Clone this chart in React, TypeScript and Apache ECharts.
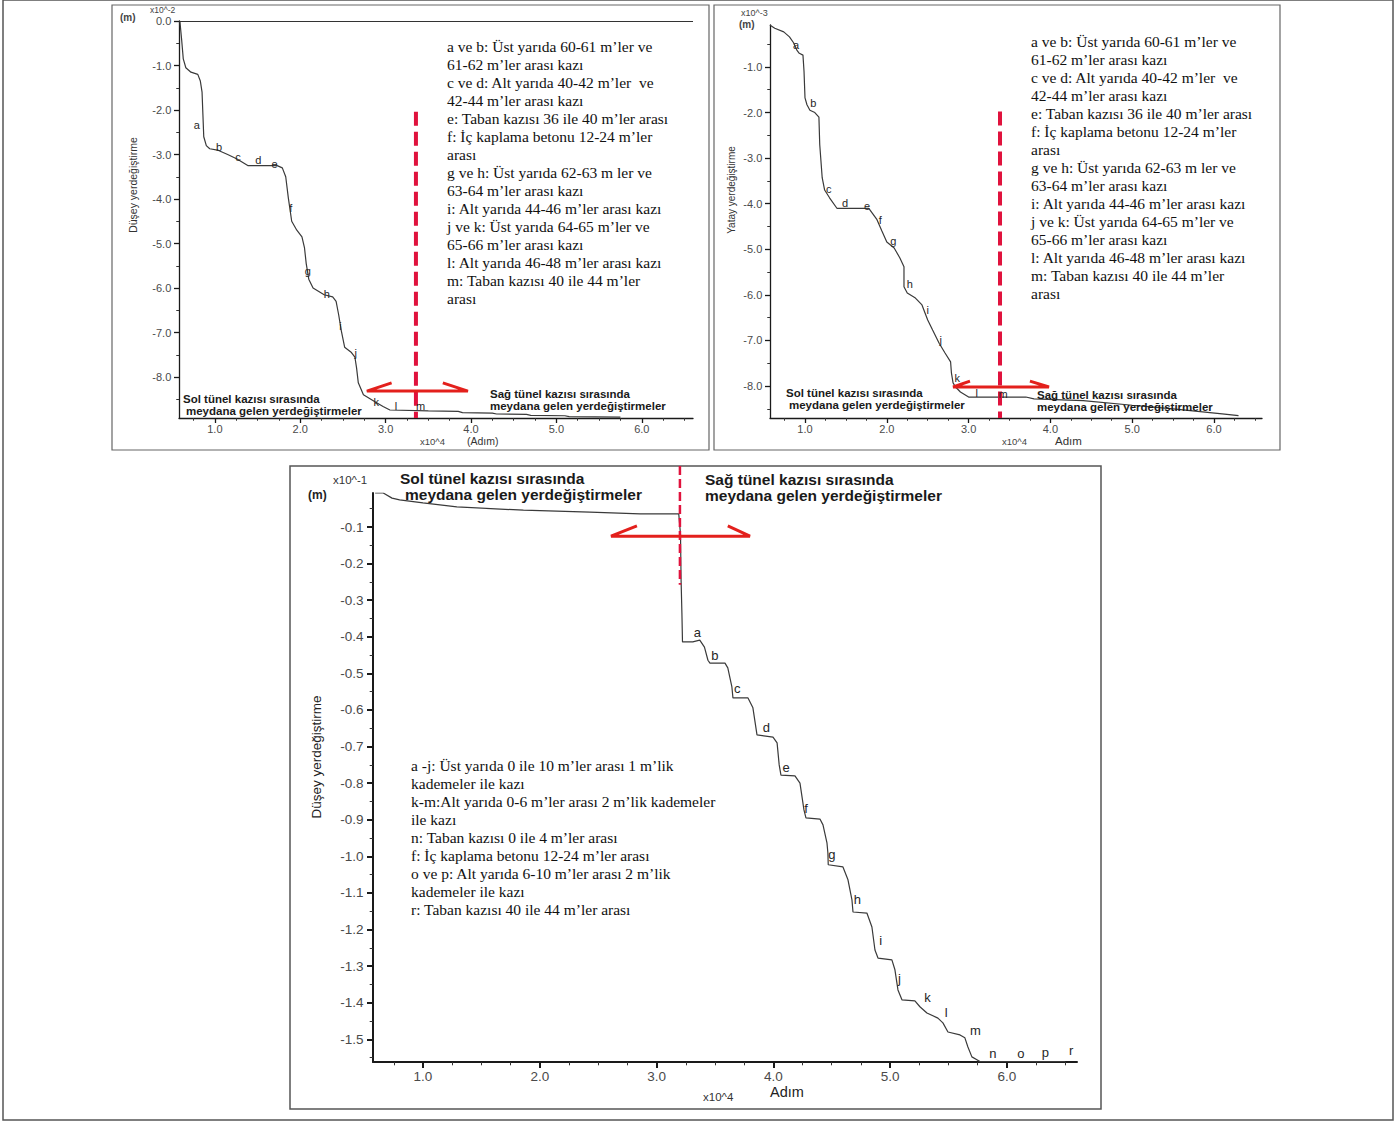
import React, { useEffect, useRef } from "react";
import * as echarts from "echarts";

// ---------- axis ticks ----------
const stepMajor = [1, 2, 3, 4, 5, 6];
const stepMinor = [0.75, 1.25, 1.5, 1.75, 2.25, 2.5, 2.75, 3.25, 3.5, 3.75, 4.25, 4.5, 4.75, 5.25, 5.5, 5.75, 6.25, 6.5];
const leftYMajor = [0, -1, -2, -3, -4, -5, -6, -7, -8];
const leftYMinor = [-0.5, -1.5, -2.5, -3.5, -4.5, -5.5, -6.5, -7.5, -8.5];
const rightYMajor = [-1, -2, -3, -4, -5, -6, -7, -8];
const rightYMinor = [-0.5, -1.5, -2.5, -3.5, -4.5, -5.5, -6.5, -7.5, -8.5];
const bottomYMajor = [-0.1, -0.2, -0.3, -0.4, -0.5, -0.6, -0.7, -0.8, -0.9, -1.0, -1.1, -1.2, -1.3, -1.4, -1.5];
const bottomYMinor = [-0.05, -0.15, -0.25, -0.35, -0.45, -0.55, -0.65, -0.75, -0.85, -0.95, -1.05, -1.15, -1.25, -1.35, -1.45, -1.55];

// ---------- series (x: Adım ×10^4) ----------
// top-left: Düşey yerdeğiştirme ×10^-2 m
const topLeftVertical: [number, number][] = [
  [0.59, 0.0], [0.61, -0.4], [0.63, -0.85], [0.66, -1.05], [0.72, -1.15], [0.8, -1.2],
  [0.83, -1.35], [0.85, -1.6], [0.86, -2.1], [0.87, -2.6], [0.9, -2.8], [0.94, -2.87],
  [1.03, -2.9], [1.15, -3.0], [1.26, -3.1], [1.39, -3.25], [1.73, -3.25], [1.79, -3.3],
  [1.83, -3.5], [1.86, -3.97], [1.9, -4.5], [1.96, -4.7], [2.02, -4.85], [2.05, -5.1],
  [2.07, -5.45], [2.1, -5.8], [2.15, -6.0], [2.28, -6.15], [2.38, -6.2], [2.42, -6.3],
  [2.45, -6.6], [2.48, -6.95], [2.52, -7.33], [2.6, -7.45], [2.64, -7.55], [2.66, -7.8],
  [2.68, -8.13], [2.74, -8.4], [2.87, -8.55], [2.97, -8.66], [3.05, -8.74], [3.5, -8.76],
  [3.85, -8.77], [3.9, -8.8], [4.25, -8.81], [4.3, -8.83], [4.65, -8.84], [4.7, -8.86],
  [5.1, -8.87], [5.15, -8.89], [5.75, -8.9],
];
// top-right: Yatay yerdeğiştirme ×10^-3 m
const topRightHorizontal: [number, number][] = [
  [0.57, -0.08], [0.63, -0.15], [0.74, -0.23], [0.81, -0.34], [0.86, -0.47], [0.9, -0.63],
  [0.93, -0.7], [0.975, -0.74], [0.988, -1.1], [1.0, -1.68], [1.024, -1.83], [1.06, -1.95],
  [1.12, -2.0], [1.17, -2.1], [1.18, -2.7], [1.21, -3.43], [1.24, -3.7], [1.3, -3.87],
  [1.39, -4.1], [1.78, -4.1], [1.82, -4.2], [1.88, -4.35], [1.94, -4.6], [2.0, -4.84],
  [2.09, -4.97], [2.16, -5.19], [2.21, -5.38], [2.21, -5.82], [2.25, -5.96], [2.35, -6.07],
  [2.43, -6.22], [2.5, -6.55], [2.56, -6.77], [2.64, -7.06], [2.71, -7.27], [2.78, -7.47],
  [2.79, -7.71], [2.81, -7.93], [2.84, -8.02], [2.9, -8.13], [3.0, -8.24], [3.7, -8.24],
  [3.8, -8.28], [4.4, -8.32], [5.0, -8.42], [5.5, -8.5], [6.1, -8.61], [6.3, -8.65],
];
// bottom: Düşey yerdeğiştirme ×10^-1 m
const bottomVertical: [number, number][] = [
  [0.59, -0.007], [0.66, -0.007], [0.735, -0.021], [0.8, -0.026], [1.0, -0.034], [1.29, -0.045],
  [1.86, -0.054], [2.43, -0.059], [2.86, -0.064], [3.19, -0.064], [3.205, -0.12], [3.21, -0.245],
  [3.217, -0.335], [3.222, -0.414], [3.31, -0.414], [3.37, -0.409], [3.41, -0.428], [3.44, -0.464],
  [3.457, -0.472], [3.586, -0.472], [3.61, -0.485], [3.645, -0.537], [3.654, -0.567], [3.783, -0.567],
  [3.825, -0.594], [3.86, -0.668], [3.997, -0.674], [4.032, -0.69], [4.05, -0.75], [4.065, -0.778],
  [4.185, -0.78], [4.228, -0.8], [4.262, -0.873], [4.279, -0.895], [4.399, -0.898], [4.425, -0.914],
  [4.459, -0.963], [4.467, -0.991], [4.47, -1.023], [4.596, -1.029], [4.639, -1.064], [4.673, -1.119],
  [4.682, -1.152], [4.801, -1.155], [4.844, -1.193], [4.87, -1.256], [4.896, -1.278], [5.015, -1.283],
  [5.041, -1.31], [5.067, -1.365], [5.101, -1.392], [5.212, -1.395], [5.255, -1.411], [5.315, -1.428],
  [5.409, -1.442], [5.452, -1.455], [5.495, -1.48], [5.598, -1.488], [5.64, -1.496], [5.666, -1.521],
  [5.7, -1.548], [5.743, -1.556], [5.769, -1.561], [6.5, -1.561],
];

// ---------- stage letters [letter, x, y] ----------
const topLeftLetters: [string, number, number][] = [
  ["a", 0.79, -2.34], ["b", 1.05, -2.83], ["c", 1.27, -3.06], ["d", 1.51, -3.12], ["e", 1.7, -3.21],
  ["f", 1.89, -4.2], ["g", 2.09, -5.62], ["h", 2.31, -6.13], ["i", 2.47, -6.85], ["j", 2.65, -7.46],
  ["k", 2.89, -8.56], ["l", 3.12, -8.65], ["m", 3.41, -8.65],
];
const topRightLetters: [string, number, number][] = [
  ["a", 0.89, -0.51], ["b", 1.1, -1.8], ["c", 1.29, -3.67], ["d", 1.49, -3.99], ["e", 1.76, -4.06],
  ["f", 1.92, -4.36], ["g", 2.08, -4.82], ["h", 2.28, -5.76], ["i", 2.5, -6.33], ["j", 2.66, -6.99],
  ["k", 2.86, -7.82], ["l", 3.1, -8.15], ["m", 3.42, -8.17],
];
const bottomLetters: [string, number, number][] = [
  ["a", 3.35, -0.387], ["b", 3.5, -0.45], ["c", 3.69, -0.54], ["d", 3.94, -0.647], ["e", 4.11, -0.758],
  ["f", 4.28, -0.868], ["g", 4.5, -0.996], ["h", 4.72, -1.119], ["i", 4.92, -1.231], ["j", 5.08, -1.335],
  ["k", 5.32, -1.387], ["l", 5.48, -1.428], ["m", 5.73, -1.477], ["n", 5.88, -1.54], ["o", 6.12, -1.54],
  ["p", 6.33, -1.537], ["r", 6.55, -1.531],
];

// ---------- boundary between left / right tunnel excavation ----------
const topLeftBoundary: [number, number][] = [[3.355, -2.04], [3.355, -8.92]];
const topRightBoundary: [number, number][] = [[3.384, -1.98], [3.384, -8.7]];
const bottomBoundary: [number, number][] = [[3.2, 0.067], [3.2, -0.258]];
const topLeftArrow: [number, number][] = [[3.07, -8.13], [2.78, -8.315], [3.964, -8.315], [3.67, -8.13]];
const topRightArrow: [number, number][] = [[3.017, -7.89], [2.81, -8.02], [3.983, -8.02], [3.75, -7.89]];
const bottomArrow: [number, number][] = [[2.832, -0.097], [2.61, -0.125], [3.8, -0.125], [3.61, -0.097]];

// ---------- notes ----------
const topNotes = [
  "a ve b: Üst yarıda 60-61 m’ler ve",
  "61-62 m’ler arası kazı",
  "c ve d: Alt yarıda 40-42 m’ler  ve",
  "42-44 m’ler arası kazı",
  "e: Taban kazısı 36 ile 40 m’ler arası",
  "f: İç kaplama betonu 12-24 m’ler",
  "arası",
  "g ve h: Üst yarıda 62-63 m ler ve",
  "63-64 m’ler arası kazı",
  "i: Alt yarıda 44-46 m’ler arası kazı",
  "j ve k: Üst yarıda 64-65 m’ler ve",
  "65-66 m’ler arası kazı",
  "l: Alt yarıda 46-48 m’ler arası kazı",
  "m: Taban kazısı 40 ile 44 m’ler",
  "arası",
];
const bottomNotes = [
  "a -j: Üst yarıda 0 ile 10 m’ler arası 1 m’lik",
  "kademeler ile kazı",
  "k-m:Alt yarıda 0-6 m’ler arası 2 m’lik kademeler",
  "ile kazı",
  "n: Taban kazısı 0 ile 4 m’ler arası",
  "f: İç kaplama betonu 12-24 m’ler arası",
  "o ve p: Alt yarıda 6-10 m’ler arası 2 m’lik",
  "kademeler ile kazı",
  "r: Taban kazısı 40 ile 44 m’ler arası",
];
const solHeader = ["Sol tünel kazısı sırasında", "meydana gelen yerdeğiştirmeler"];
const sagHeader = ["Sağ tünel kazısı sırasında", "meydana gelen yerdeğiştirmeler"];

const SANS = '"Liberation Sans", Arial, sans-serif';
const SERIF = '"Liberation Serif", "Times New Roman", serif';
const LETTER_COLOR = "#262626";

function makeAxes(
  gridIndex: number, xMin: number, xMax: number, yMin: number, yMax: number,
  yMajor: number[], yMinor: number[], fs: number, lw: number, tickLen: number, xMargin: number
) {
  const lab = { color: "#4a4a4a", fontSize: fs, fontFamily: SANS };
  const xs = [
    {
      type: "value", gridIndex, min: xMin, max: xMax, position: "bottom",
      axisLine: { show: true, onZero: false, lineStyle: { color: "#1a1a1a", width: lw } },
      axisTick: { show: true, customValues: stepMajor, length: tickLen, lineStyle: { color: "#1a1a1a", width: lw } },
      axisLabel: { show: true, customValues: stepMajor, formatter: (v: number) => v.toFixed(1), margin: xMargin, ...lab },
      splitLine: { show: false },
    },
    {
      type: "value", gridIndex, min: xMin, max: xMax, position: "bottom",
      axisLine: { show: false, onZero: false },
      axisTick: { show: true, customValues: stepMinor, length: tickLen * 0.55, lineStyle: { color: "#333", width: 1 } },
      axisLabel: { show: false },
      splitLine: { show: false },
    },
  ];
  const ys = [
    {
      type: "value", gridIndex, min: yMin, max: yMax, position: "left",
      axisLine: { show: true, onZero: false, lineStyle: { color: "#1a1a1a", width: lw } },
      axisTick: { show: true, customValues: yMajor, length: tickLen, lineStyle: { color: "#1a1a1a", width: lw } },
      axisLabel: { show: true, customValues: yMajor, formatter: (v: number) => v.toFixed(1), margin: fs * 0.7, ...lab },
      splitLine: { show: false },
    },
    {
      type: "value", gridIndex, min: yMin, max: yMax, position: "left",
      axisLine: { show: false, onZero: false },
      axisTick: { show: true, customValues: yMinor, length: tickLen * 0.55, lineStyle: { color: "#333", width: 1 } },
      axisLabel: { show: false },
      splitLine: { show: false },
    },
  ];
  return { xs, ys };
}

function panelSeries(
  axisIndex: number, curve: [number, number][], boundary: [number, number][],
  arrow: [number, number][], dashWidth: number, dash: number[], extra: any = {}
) {
  return [
    {
      type: "line", xAxisIndex: axisIndex, yAxisIndex: axisIndex, data: curve,
      symbol: "none", showSymbol: false, silent: true,
      lineStyle: { color: "#3a3a3a", width: 1.2 }, z: 3, ...extra,
    },
    {
      type: "line", xAxisIndex: axisIndex, yAxisIndex: axisIndex, data: boundary, clip: false,
      symbol: "none", silent: true,
      lineStyle: { color: "#e0123d", width: dashWidth, type: dash }, z: 5,
    },
    {
      type: "line", xAxisIndex: axisIndex, yAxisIndex: axisIndex, data: arrow, clip: false,
      symbol: "none", silent: true,
      lineStyle: { color: "#e3201c", width: 3, join: "miter" }, z: 6,
    },
  ];
}

function textEl(x: number, y: number, text: string, font: string, extra: any = {}) {
  return {
    type: "text", x, y, z: 20, silent: true,
    style: { text, font, fill: "#1a1a1a", align: "left", verticalAlign: "middle", ...extra },
  };
}

export default function App() {
  const ref = useRef<HTMLDivElement>(null);
  useEffect(() => {
    if (!ref.current) return;
    const chart = echarts.init(ref.current, undefined, { renderer: "svg" });

    const a0 = makeAxes(0, 0.58, 6.6, -8.92, 0, leftYMajor, leftYMinor, 11, 1.3, 5, 5);
    const a1 = makeAxes(1, 0.572, 6.587, -8.7, -0.08, rightYMajor, rightYMinor, 11, 1.3, 5, 5);
    const a2 = makeAxes(2, 0.572, 6.6, -1.562, -0.007, bottomYMajor, bottomYMinor, 13.5, 2, 6, 7);

    const noteStyle = { font: `15.5px ${SERIF}`, lineHeight: 18, fill: "#111", verticalAlign: "top" };
    const hTop = `bold 11.5px ${SANS}`;
    const hBottom = `bold 15.5px ${SANS}`;
    const graphic: any[] = [
      // frames
      { type: "rect", z: 1, silent: true, shape: { x: 3, y: 0, width: 1390, height: 1120 }, style: { fill: "none", stroke: "#555", lineWidth: 1.5 } },
      { type: "rect", z: 1, silent: true, shape: { x: 112, y: 5, width: 597, height: 445 }, style: { fill: "none", stroke: "#666", lineWidth: 1.2 } },
      { type: "rect", z: 1, silent: true, shape: { x: 714, y: 5, width: 566, height: 445 }, style: { fill: "none", stroke: "#666", lineWidth: 1.2 } },
      { type: "rect", z: 1, silent: true, shape: { x: 290, y: 466, width: 811, height: 643 }, style: { fill: "none", stroke: "#555", lineWidth: 1.5 } },
      // notes
      { type: "text", x: 447, y: 37, z: 20, silent: true, style: { text: topNotes.join("\n"), ...noteStyle } },
      { type: "text", x: 1031, y: 32, z: 20, silent: true, style: { text: topNotes.join("\n"), ...noteStyle } },
      { type: "text", x: 411, y: 756, z: 20, silent: true, style: { text: bottomNotes.join("\n"), ...noteStyle } },
      // tunnel headers, top-left
      textEl(183, 399, solHeader[0], hTop),
      textEl(186, 411, solHeader[1], hTop),
      textEl(490, 394, sagHeader[0], hTop),
      textEl(490, 406, sagHeader[1], hTop),
      // top-right
      textEl(786, 393, solHeader[0], hTop),
      textEl(789, 405, solHeader[1], hTop),
      textEl(1037, 395, sagHeader[0], hTop),
      textEl(1037, 407, sagHeader[1], hTop),
      // bottom
      textEl(400, 478, solHeader[0], hBottom),
      textEl(405, 494, solHeader[1], hBottom),
      textEl(705, 479, sagHeader[0], hBottom),
      textEl(705, 495, sagHeader[1], hBottom),
      // units
      textEl(120, 17, "(m)", `bold 10px ${SANS}`, { fill: "#444" }),
      textEl(150, 10, "x10^-2", `8.5px ${SANS}`, { fill: "#444" }),
      textEl(420, 441, "x10^4", `9.5px ${SANS}`, { fill: "#444" }),
      textEl(467, 441, "(Adım)", `10.5px ${SANS}`, { fill: "#333" }),
      textEl(741, 13, "x10^-3", `9px ${SANS}`, { fill: "#444" }),
      textEl(739, 24, "(m)", `bold 10px ${SANS}`, { fill: "#444" }),
      textEl(1002, 441, "x10^4", `9.5px ${SANS}`, { fill: "#444" }),
      textEl(1055, 441, "Adım", `11.5px ${SANS}`, { fill: "#333" }),
      textEl(333, 480, "x10^-1", `11.5px ${SANS}`, { fill: "#333" }),
      textEl(308, 495, "(m)", `bold 12px ${SANS}`, { fill: "#222" }),
      textEl(703, 1097, "x10^4", `11.5px ${SANS}`, { fill: "#333" }),
      textEl(770, 1092, "Adım", `14.5px ${SANS}`, { fill: "#222" }),
      // y-axis titles
      { type: "text", x: 133, y: 185, rotation: Math.PI / 2, z: 20, silent: true, style: { text: "Düşey yerdeğiştirme", font: `10.5px ${SANS}`, fill: "#333", align: "center", verticalAlign: "middle" } },
      { type: "text", x: 731, y: 190, rotation: Math.PI / 2, z: 20, silent: true, style: { text: "Yatay yerdeğiştirme", font: `10px ${SANS}`, fill: "#333", align: "center", verticalAlign: "middle" } },
      { type: "text", x: 316, y: 757, rotation: Math.PI / 2, z: 20, silent: true, style: { text: "Düşey yerdeğiştirme", font: `13.5px ${SANS}`, fill: "#222", align: "center", verticalAlign: "middle" } },
    ];

    chart.setOption({
      animation: false,
      backgroundColor: "#ffffff",
      grid: [
        { left: 179, top: 21, width: 514, height: 397, outerBoundsMode: "none", containLabel: false },
        { left: 770, top: 25, width: 492, height: 393, outerBoundsMode: "none", containLabel: false },
        { left: 373, top: 493, width: 704, height: 569, outerBoundsMode: "none", containLabel: false },
      ],
      xAxis: [...a0.xs, ...a1.xs, ...a2.xs],
      yAxis: [...a0.ys, ...a1.ys, ...a2.ys],
      series: [
        ...panelSeries(0, topLeftVertical, topLeftBoundary, topLeftArrow, 4, [14, 6], {
          markLine: {
            silent: true, symbol: ["none", "none"], label: { show: false },
            lineStyle: { color: "#333", type: "solid", width: 1.2 },
            data: [{ yAxis: 0 }],
          },
        }),
        ...panelSeries(2, topRightHorizontal, topRightBoundary, topRightArrow, 4, [14, 6]),
        ...panelSeries(4, bottomVertical, bottomBoundary, bottomArrow, 2.5, [9, 4]),
      ],
    });

    // stage letters placed through the axes' own scales
    const letterEls: any[] = [];
    const sets: [number, [string, number, number][], number][] = [
      [0, topLeftLetters, 11], [2, topRightLetters, 11], [4, bottomLetters, 13],
    ];
    sets.forEach(([axisIndex, letters, size]) => {
      letters.forEach(([name, x, y]) => {
        const p = chart.convertToPixel({ xAxisIndex: axisIndex, yAxisIndex: axisIndex } as any, [x, y]) as number[];
        if (!p) return;
        letterEls.push({
          type: "text", x: p[0], y: p[1], z: 21, silent: true,
          style: { text: name, font: `${size}px ${SANS}`, fill: LETTER_COLOR, align: "center", verticalAlign: "middle" },
        });
      });
    });

    chart.setOption({ graphic: [...graphic, ...letterEls] });
    return () => chart.dispose();
  }, []);
  return <div ref={ref} style={{ position: "absolute", left: 0, top: 0, width: 1400, height: 1123 }} />;
}
